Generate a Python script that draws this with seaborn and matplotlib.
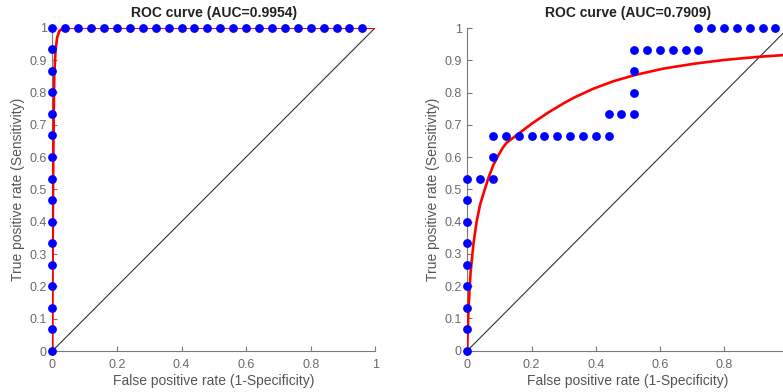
import numpy as np
import pandas as pd
import matplotlib
matplotlib.use("Agg")
import matplotlib.pyplot as plt
import seaborn as sns

# ---------------- data ----------------
# Left panel: empirical ROC points
left_fpr = [0.0] * 16 + [0.04 * k for k in range(1, 25)]
left_tpr = [i / 15 for i in range(16)] + [1.0] * 24
# Left panel: fitted smooth ROC curve
left_fit_fpr = [0.0, 0.001, 0.003, 0.006, 0.010, 0.015, 0.022, 0.035, 1.0]
left_fit_tpr = [0.0, 0.30, 0.60, 0.85, 0.93, 0.97, 0.99, 1.0, 1.0]
left_title = "ROC curve (AUC=0.9954)"

# Right panel: empirical ROC points
right_fpr = ([0.0] * 9 + [0.04, 0.08, 0.08, 0.08]
             + [0.12, 0.16, 0.20, 0.24, 0.28, 0.32, 0.36, 0.40, 0.44]
             + [0.44, 0.48, 0.52, 0.52, 0.52, 0.52]
             + [0.56, 0.60, 0.64, 0.68, 0.72]
             + [0.72, 0.76, 0.80, 0.84, 0.88, 0.92, 0.96])
right_tpr = ([i / 15 for i in range(9)] + [8 / 15, 8 / 15, 9 / 15, 10 / 15]
             + [10 / 15] * 9
             + [11 / 15, 11 / 15, 11 / 15, 12 / 15, 13 / 15, 14 / 15]
             + [14 / 15] * 5
             + [1.0] * 7)
# Right panel: fitted smooth ROC curve
right_fit_fpr = [0.0, 0.0005, 0.004, 0.010, 0.019, 0.029, 0.040, 0.052, 0.066,
                 0.081, 0.097, 0.110, 0.123, 0.154, 0.200, 0.252, 0.304, 0.336,
                 0.393, 0.455, 0.521, 0.610, 0.704, 0.800, 0.912, 1.0]
right_fit_tpr = [0.0, 0.033, 0.136, 0.240, 0.330, 0.400, 0.453, 0.492, 0.536,
                 0.575, 0.606, 0.628, 0.645, 0.668, 0.703, 0.738, 0.769, 0.786,
                 0.812, 0.835, 0.854, 0.874, 0.889, 0.901, 0.911, 0.917]
right_title = "ROC curve (AUC=0.7909)"

# chance line
diag = [0.0, 1.0]

left_xticks = [0, 0.2, 0.4, 0.6, 0.8, 1]
left_xticklabels = ["0", "0.2", "0.4", "0.6", "0.8", "1"]
# the right panel's x=1 tick falls outside the visible image
right_xticks = [0, 0.2, 0.4, 0.6, 0.8]
right_xticklabels = ["0", "0.2", "0.4", "0.6", "0.8"]
yticks = [0, 0.1, 0.2, 0.3, 0.4, 0.5, 0.6, 0.7, 0.8, 0.9, 1]
yticklabels = ["0", "0.1", "0.2", "0.3", "0.4", "0.5", "0.6", "0.7", "0.8", "0.9", "1"]
xlabel = "False positive rate (1-Specificity)"
ylabel = "True positive rate (Sensitivity)"

# ---------------- style ----------------
sns.set_style("ticks")
plt.rcParams["font.family"] = ["Liberation Sans", "DejaVu Sans"]

fig = plt.figure(figsize=(7.83, 3.92), dpi=100)
axL = fig.add_axes([52.3 / 783, 41 / 392, 323 / 783, 323.3 / 392])
axR = fig.add_axes([467.3 / 783, 41.3 / 392, 321 / 783, 322.7 / 392])

gray = "#7a7a7a"
panels = [
    (axL, left_fpr, left_tpr, left_fit_fpr, left_fit_tpr, left_title,
     left_xticks, left_xticklabels),
    (axR, right_fpr, right_tpr, right_fit_fpr, right_fit_tpr, right_title,
     right_xticks, right_xticklabels),
]
for ax, fx, fy, cx, cy, title, xt, xtl in panels:
    sns.lineplot(x=diag, y=diag, ax=ax, color="#333333", lw=0.8,
                 estimator=None, sort=False, zorder=2)
    sns.lineplot(x=cx, y=cy, ax=ax, color="#ff0000", lw=1.9,
                 estimator=None, sort=False, zorder=3)
    sns.scatterplot(x=fx, y=fy, ax=ax, color="#0000ff", s=40, linewidth=0,
                    zorder=4, clip_on=False)
    ax.set_xlim(0, 1)
    ax.set_ylim(0, 1)
    ax.set_xticks(xt)
    ax.set_xticklabels(xtl)
    ax.set_yticks(yticks)
    ax.set_yticklabels(yticklabels)
    ax.tick_params(direction="in", length=3.5, width=0.8, colors=gray,
                   labelsize=9, labelcolor="#6a6a6a")
    ax.tick_params(axis="x", pad=6)
    ax.tick_params(axis="y", pad=4)
    for side in ["top", "right"]:
        ax.spines[side].set_visible(False)
    for side in ["left", "bottom"]:
        ax.spines[side].set_color(gray)
        ax.spines[side].set_linewidth(0.8)
    ax.set_xlabel(xlabel, fontsize=10, color="#555555", labelpad=2)
    ax.set_ylabel(ylabel, fontsize=10, color="#555555", labelpad=3)
    ax.set_title(title, fontsize=10, fontweight="bold", color="#222222", pad=8)
    ax.set_facecolor("white")

fig.savefig("out.png", dpi=100, facecolor="white")
